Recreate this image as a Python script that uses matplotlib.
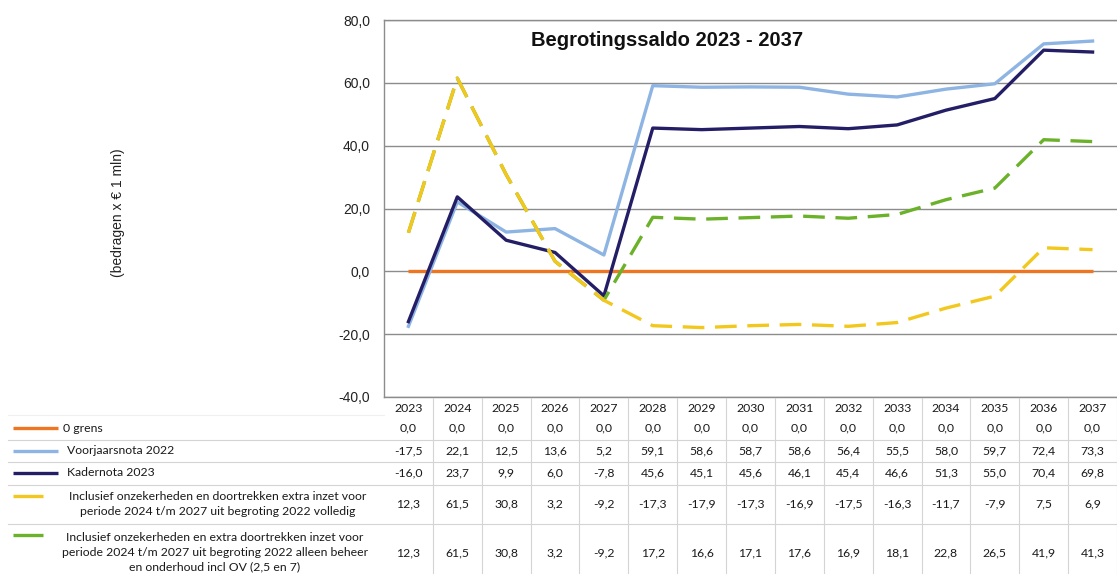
import matplotlib
matplotlib.use("Agg")
import matplotlib.pyplot as plt
from matplotlib.transforms import blended_transform_factory
from matplotlib.lines import Line2D

years = [2023, 2024, 2025, 2026, 2027, 2028, 2029, 2030, 2031, 2032, 2033, 2034, 2035, 2036, 2037]
nul_grens = [0.0] * 15
voorjaarsnota = [-17.5, 22.1, 12.5, 13.6, 5.2, 59.1, 58.6, 58.7, 58.6, 56.4, 55.5, 58.0, 59.7, 72.4, 73.3]
kadernota = [-16.0, 23.7, 9.9, 6.0, -7.8, 45.6, 45.1, 45.6, 46.1, 45.4, 46.6, 51.3, 55.0, 70.4, 69.8]
incl_volledig = [12.3, 61.5, 30.8, 3.2, -9.2, -17.3, -17.9, -17.3, -16.9, -17.5, -16.3, -11.7, -7.9, 7.5, 6.9]
incl_beheer = [12.3, 61.5, 30.8, 3.2, -9.2, 17.2, 16.6, 17.1, 17.6, 16.9, 18.1, 22.8, 26.5, 41.9, 41.3]

series_labels = [
    "0 grens",
    "Voorjaarsnota 2022",
    "Kadernota 2023",
    "Inclusief onzekerheden en doortrekken extra inzet voor\nperiode 2024 t/m 2027 uit begroting 2022 volledig",
    "Inclusief onzekerheden en extra doortrekken inzet voor\nperiode 2024 t/m 2027 uit begroting 2022 alleen beheer\nen onderhoud incl OV (2,5 en 7)",
]
yticks = [-40, -20, 0, 20, 40, 60, 80]
title = "Begrotingssaldo 2023 - 2037"
ylabel = "(bedragen x € 1 mln)"

W, H = 1117, 574
fig = plt.figure(figsize=(W / 100, H / 100), dpi=100)
fig.patch.set_facecolor("white")

def fx(px):
    return px / W

def fy(px):
    return 1 - px / H

ax_l, ax_r, ax_t, ax_b = 384, 1117, 20, 397
ax = fig.add_axes([fx(ax_l), fy(ax_b), fx(ax_r - ax_l), (ax_b - ax_t) / H])

c_orange = "#EE7623"
c_lblue = "#8DB4E2"
c_navy = "#231E66"
c_yellow = "#F2C81E"
c_green = "#6BB22A"
lw = 2.4
dash = (6.5, 3.2)

ax.plot(years, nul_grens, color=c_orange, lw=lw, solid_capstyle="butt", zorder=3)
ax.plot(years, voorjaarsnota, color=c_lblue, lw=lw, zorder=4)
ax.plot(years, kadernota, color=c_navy, lw=lw, zorder=5)
ax.plot(years, incl_beheer, color=c_green, lw=lw, dashes=dash, zorder=6)
ax.plot(years, incl_volledig, color=c_yellow, lw=lw, dashes=dash, zorder=7)

ax.set_xlim(2022.5, 2037.5)
ax.set_ylim(-40, 80)
ax.set_yticks(yticks)
ax.set_yticklabels([f"{v:.1f}".replace(".", ",") for v in yticks],
                   fontsize=10, family="Liberation Sans", color="#222222")
ax.set_xticks([])
ax.tick_params(axis="y", length=0, pad=10)
ax.grid(axis="y", color="#8C8C8C", lw=1.0, zorder=1)
ax.spines["right"].set_visible(False)
for s in ["left", "top", "bottom"]:
    ax.spines[s].set_color("#8C8C8C")
    ax.spines[s].set_linewidth(1.0)

fig.text(fx(667), fy(41), title, ha="center", va="center", fontsize=14.5,
         fontweight="bold", family="Liberation Sans", color="#111111")
fig.text(fx(118), fy(213), ylabel, ha="center", va="center", rotation=90,
         fontsize=10, family="Liberation Sans", color="#222222")

# table
tr = blended_transform_factory(ax.transData, fig.transFigure)
tfont = dict(family="Lato", fontsize=8.8, color="#1A1A1A")
grid_c = "#D4D4D4"

for i in range(len(years)):
    xb = years[i] + 0.5
    fig.add_artist(Line2D([xb, xb], [fy(398), fy(574)], transform=tr, color=grid_c, lw=0.8))
for yl in [440, 462, 485, 524]:
    fig.add_artist(Line2D([fx(8), fx(W)], [fy(yl), fy(yl)], color=grid_c, lw=0.8))
fig.add_artist(Line2D([fx(8), fx(ax_l)], [fy(415), fy(415)], color="#F0F0F0", lw=0.8))

def fmt(v):
    return f"{v:.1f}".replace(".", ",")

row_y = [428, 451, 473, 504, 553]
all_series = [nul_grens, voorjaarsnota, kadernota, incl_volledig, incl_beheer]
for yr in years:
    fig.text(yr, fy(408), str(yr), transform=tr, ha="center", va="center", **tfont)
for ry, ser in zip(row_y, all_series):
    for yr, v in zip(years, ser):
        fig.text(yr, fy(ry), fmt(v), transform=tr, ha="center", va="center", **tfont)

colors = [c_orange, c_lblue, c_navy, c_yellow, c_green]
key_y = [428, 451, 473, 496, 535]
key_x1 = [58, 58, 58, 43, 43]
for c, ky, kx in zip(colors, key_y, key_x1):
    fig.add_artist(Line2D([fx(13), fx(kx)], [fy(ky), fy(ky)], color=c, lw=2.4, solid_capstyle="butt"))

fig.text(fx(63), fy(428), series_labels[0], ha="left", va="center", **tfont)
fig.text(fx(67), fy(451), series_labels[1], ha="left", va="center", **tfont)
fig.text(fx(67), fy(473), series_labels[2], ha="left", va="center", **tfont)
fig.text(fx(218), fy(504), series_labels[3], ha="center", va="center",
         linespacing=1.5, multialignment="center", **tfont)
fig.text(fx(215), fy(552), series_labels[4], ha="center", va="center",
         linespacing=1.4, multialignment="center", **tfont)

fig.savefig("out.png", dpi=100, facecolor="white")
